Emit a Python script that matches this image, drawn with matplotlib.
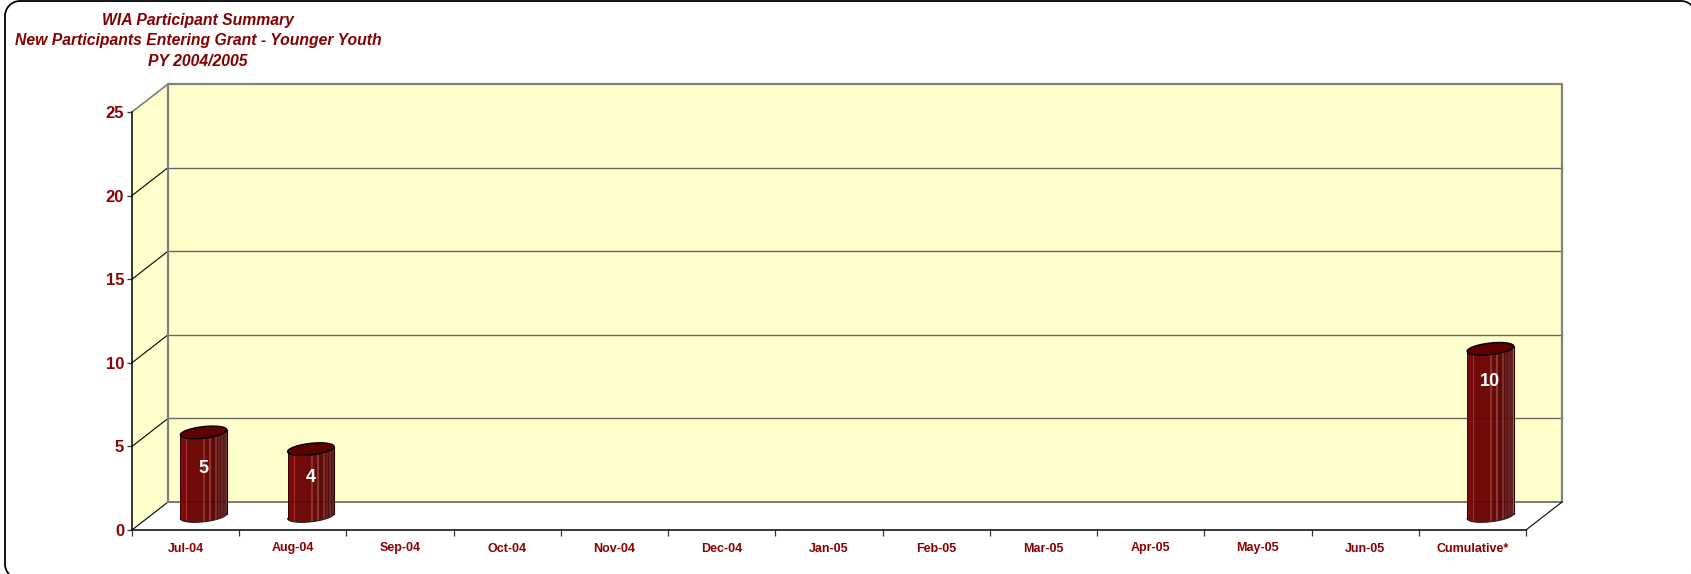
import numpy as np
import matplotlib
matplotlib.use("Agg")
import matplotlib.pyplot as plt
from matplotlib.colors import to_rgb
from matplotlib.lines import Line2D
from matplotlib.patches import Polygon, PathPatch
from matplotlib.path import Path
from matplotlib.transforms import IdentityTransform

plt.rcParams['font.family'] = ['Liberation Sans', 'DejaVu Sans']

# data
months = ["Jul-04", "Aug-04", "Sep-04", "Oct-04", "Nov-04", "Dec-04", "Jan-05",
          "Feb-05", "Mar-05", "Apr-05", "May-05", "Jun-05", "Cumulative*"]
participants = [5, 4, None, None, None, None, None, None, None, None, None, None, 10]
y_ticks = [0, 5, 10, 15, 20, 25]
title_lines = ["WIA Participant Summary",
               "New Participants Entering Grant - Younger Youth",
               "PY 2004/2005"]

W, H = 1691, 574
RED = "#8b0000"
WALL = "#ffffcc"
GREY = "#808080"

# one colour per 2 px column of a cylinder, left to right
stripes = ["#841414", "#760404", "#720000", "#720000", "#a02828", "#6c0000", "#6a0000",
           "#6a0000", "#6a0000", "#6a0000", "#6a0000", "#6a0000", "#6a0000", "#6a0000",
           "#6a0000", "#6a0000", "#862828", "#620000", "#620000", "#620000", "#843030",
           "#5a0000", "#580000", "#580000", "#762828", "#520000", "#621818", "#500404",
           "#621c1c", "#540e0e", "#581818", "#541414"]
# how far each value label sits under the top of its cylinder
label_drop = {5: 2.13, 4: 1.68, 10: 1.97}

fig = plt.figure(figsize=(W / 100, H / 100), dpi=100, facecolor="white")


def corner(cx, cy, start, rad=15):
    ang = np.radians(np.linspace(start, start + 90, 12))
    return np.column_stack([cx + rad * np.cos(ang), cy + rad * np.sin(ang)])


# frame in pixels, the right and bottom sides fall just outside the picture
fl, fr, fb, ft = 5, 1696, -5, 573
frame_pts = np.vstack([corner(fr - 15, ft - 15, 0), corner(fl + 15, ft - 15, 90),
                       corner(fl + 15, fb + 15, 180), corner(fr - 15, fb + 15, 270)])
frame_pts = np.vstack([frame_pts, frame_pts[:1]])
fig.add_artist(Line2D(frame_pts[:, 0], frame_pts[:, 1], color="black", lw=1.3,
                      transform=IdentityTransform()))

x0, x1, y0, y1 = 132, 1526, 530, 112
ax = fig.add_axes([x0 / W, 1 - y0 / H, (x1 - x0) / W, (y0 - y1) / H])
ax.patch.set_alpha(0)
n = len(months)
ax.set_xlim(0, n)
ax.set_ylim(0, 25)

ux = (x1 - x0) / n    # px per category
uy = (y0 - y1) / 25   # px per unit
dx = 36 / ux
dy = 28 / uy
top = y_ticks[-1]

# walls
ax.add_patch(Polygon([(dx, dy), (n + dx, dy), (n + dx, top + dy), (dx, top + dy)],
                     fc=WALL, ec="none", clip_on=False, zorder=1))
ax.add_patch(Polygon([(0, 0), (dx, dy), (dx, top + dy), (0, top)],
                     fc=WALL, ec="none", clip_on=False, zorder=1))
for v in y_ticks[1:-1]:
    ax.plot([dx, n + dx], [v + dy, v + dy], color="#666666", lw=1.0, clip_on=False, zorder=2)
for v in y_ticks[:-1]:
    ax.plot([0, dx], [v, v + dy], color="black", lw=0.8, clip_on=False, zorder=2)
ax.plot([0, dx], [top, top + dy], color=GREY, lw=1.2, clip_on=False, zorder=2)
ax.plot([dx, n + dx], [dy, dy], color="#707070", lw=1.3, clip_on=False, zorder=2)
ax.plot([dx, dx, n + dx, n + dx], [dy, top + dy, top + dy, dy],
        color=GREY, lw=1.6, clip_on=False, zorder=2)
ax.plot([n, n + dx], [0, dy], color="black", lw=0.8, clip_on=False, zorder=2)

# cylinders
a = 23.25 / ux
b = 5.8 / uy
k = 2.5 / uy
t = np.linspace(0, 2 * np.pi, 80)
colors = np.array([[to_rgb(c) for c in stripes]])

for i, v in enumerate(participants):
    if v is None:
        continue
    cx = i + 0.5 + dx / 2
    base = dy / 2
    head = v + dy / 2
    ex = a * np.cos(t)
    ey = b * np.sin(t) + k * np.cos(t)

    # outline of the side: lower half of the bottom ellipse, then up and back along the top
    low = np.linspace(np.pi, 2 * np.pi, 40)
    lx = cx + a * np.cos(low)
    ly = base + b * np.sin(low) + k * np.cos(low)
    verts = list(zip(lx, ly)) + [(cx + a, head + k), (cx - a, head - k), (lx[0], ly[0])]
    body = Path(verts)
    im = ax.imshow(colors, extent=(cx - a, cx + a, base - b - k, head + k), aspect="auto",
                   interpolation="nearest", alpha=0.96, zorder=3)
    im.set_clip_path(PathPatch(body, transform=ax.transData))
    ax.plot(lx, ly, color="#222222", lw=0.8, zorder=4, clip_on=False)
    ax.plot([cx - a, cx - a], [ly[0], head - k], color="#3a0000", lw=0.7, zorder=4)
    ax.plot([cx + a, cx + a], [ly[-1], head + k], color="#2a0000", lw=0.8, zorder=4)
    ax.fill(cx + ex, head + ey, fc="#5e0000", ec="black", lw=1.0, zorder=5, clip_on=False)
    ax.text(cx, head - label_drop[v], str(v), color="white",
            fontsize=13, fontweight="bold", ha="center", va="center", zorder=6)

ax.set_xlim(0, n)
ax.set_ylim(0, 25)

# axes
for s in ["top", "right"]:
    ax.spines[s].set_visible(False)
for s in ["left", "bottom"]:
    ax.spines[s].set_linewidth(1.1)
    ax.spines[s].set_zorder(7)
ax.set_yticks(y_ticks)
ax.set_yticklabels([str(v) for v in y_ticks], fontsize=12, fontweight="bold", color=RED)
ax.tick_params(axis="y", length=3.6, width=0.9, pad=2, color="#333333")
ax.set_xticks(np.arange(n + 1))
ax.set_xticklabels([])
ax.tick_params(axis="x", which="major", length=4.5, width=0.9, color="#333333")
ax.set_xticks(np.arange(n) + 0.5, minor=True)
ax.set_xticklabels(months, minor=True, fontsize=9, fontweight="bold", color=RED)
ax.tick_params(axis="x", which="minor", length=0, pad=9)

# title, top left
for line, y in zip(title_lines, [20, 41, 61]):
    fig.text(198 / W, 1 - y / H, line, fontsize=11.35, fontweight="bold", style="italic",
             color="#850000", ha="center", va="center")

fig.savefig("out.png", dpi=100, facecolor="white")
